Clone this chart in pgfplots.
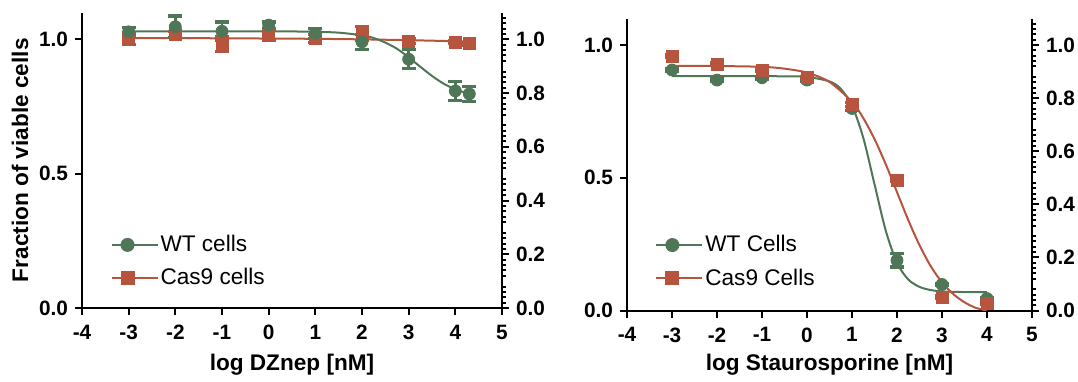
\documentclass[border=0pt]{standalone}
\usepackage{fontspec}
\setmainfont{Liberation Sans}
\usepackage{pgfplots}
\pgfplotsset{compat=1.18}
\definecolor{wtgreen}{RGB}{80,118,88}
\definecolor{casred}{RGB}{182,84,62}

\pgfplotstableread{
x y e
-3 1.028 0.015
-2 1.047 0.040
-1 1.030 0.035
0 1.053 0.012
1 1.022 0.018
2 0.991 0.028
3 0.926 0.035
4 0.808 0.035
4.3 0.797 0.028
}\dzwt
\pgfplotstableread{
x y e
-3 1.002 0.022
-2 1.018 0.010
-1 0.982 0.028
0 1.015 0.020
1 1.002 0.015
2 1.022 0.025
3 0.993 0.008
4 0.990 0.005
4.3 0.984 0.005
}\dzcas
\pgfplotstableread{
x y
-3 1.030
-2 1.030
-1 1.030
0 1.0295
0.5 1.0295
1 1.028
1.5 1.025
2 1.015
2.25 1.005
2.5 0.988
2.75 0.965
3 0.933
3.25 0.898
3.5 0.864
3.75 0.835
4 0.814
4.15 0.805
4.3 0.798
}\dzwtfit
\pgfplotstableread{
x y
-3 1.005
-1 1.004
0 1.003
1 1.002
2 1.000
3 0.997
4 0.993
4.3 0.991
}\dzcasfit
\pgfplotstableread{
x y e
-3 0.906 0.005
-2 0.868 0.005
-1 0.877 0.005
0 0.868 0.005
1 0.761 0.008
2 0.189 0.025
3 0.098 0.005
4 0.045 0.005
}\stwt
\pgfplotstableread{
x y e
-3 0.958 0.005
-2 0.927 0.005
-1 0.906 0.005
0 0.878 0.005
1 0.776 0.008
2 0.490 0.005
3 0.050 0.005
4 0.028 0.005
}\stcas
\pgfplotstableread{
x y
-3 0.883
-2 0.883
-1 0.883
-0.5 0.882
0 0.880
0.5 0.863
0.75 0.835
1 0.772
1.25 0.651
1.5 0.476
1.75 0.301
2 0.180
2.25 0.117
2.5 0.089
2.75 0.077
3 0.072
3.5 0.0695
4 0.069
}\stwtfit
\pgfplotstableread{
x y
-3 0.922
-2 0.921
-1 0.918
-0.5 0.911
0 0.896
0.5 0.861
1 0.786
1.25 0.725
1.5 0.646
1.75 0.551
2 0.446
2.25 0.341
2.5 0.246
2.75 0.167
3 0.106
3.25 0.062
3.5 0.031
3.75 0.010
4 0.000
}\stcasfit

\pgfplotsset{
  panel/.style={
    scale only axis, xmin=-4, xmax=5, ymin=0, ymax=1.1,
    axis line style={line width=1pt, black},
    every tick/.style={line width=1pt, black},
    tick align=outside,
    major tick length=3.5pt, minor tick length=2.2pt,
    ticklabel style={font=\fontsize{10.4}{12}\selectfont\bfseries, black},
  },
  mainax/.style={
    panel,
    axis x line*=bottom, axis y line*=left,
    xtick={-4,-3,-2,-1,0,1,2,3,4,5},
    xticklabels={-4,-3,-2,-1,0,1,2,3,4,5},
    xticklabel style={yshift=-1.5pt},
    ytick={0,0.5,1}, yticklabels={0.0,0.5,1.0},
    label style={font=\fontsize{11.3}{13}\selectfont\bfseries},
    legend style={draw=none, fill=none, inner sep=0pt,
      font=\fontsize{11.3}{13}\selectfont, row sep=5pt, column sep=0pt,
      nodes={inner sep=1pt}},
    legend cell align=left,
    legend image code/.code={
      \draw[mark repeat=2, mark phase=2, #1] plot coordinates {(0pt,0pt) (8pt,0pt) (16pt,0pt)};
      \path (16pt,0pt) -- (23pt,0pt);
    },
  },
  secax/.style={
    panel,
    axis x line=none, axis y line*=right,
    ytick={0,0.2,0.4,0.6,0.8,1.0},
    yticklabels={0.0,0.2,0.4,0.6,0.8,1.0},
    minor ytick={0.02,0.04,0.06,0.08,0.12,0.14,0.16,0.18,0.22,0.24,0.26,0.28,0.32,0.34,0.36,0.38,0.42,0.44,0.46,0.48,0.52,0.54,0.56,0.58,0.62,0.64,0.66,0.68,0.72,0.74,0.76,0.78,0.82,0.84,0.86,0.88,0.92,0.94,0.96,0.98,1.02,1.04,1.06,1.08},
  },
  ptsgreen/.style={only marks, color=wtgreen, mark=*, mark size=3pt,
    error bars/.cd, y dir=both, y explicit,
    error bar style={line width=1.3pt, wtgreen},
    error mark options={rotate=90, line width=1.6pt, mark size=3.5pt, wtgreen}},
  ptsred/.style={only marks, color=casred, mark=square*, mark size=3pt,
    error bars/.cd, y dir=both, y explicit,
    error bar style={line width=1.3pt, casred},
    error mark options={rotate=90, line width=1.6pt, mark size=3.5pt, casred}},
}

\begin{document}
\begin{tikzpicture}
\path[use as bounding box] (0pt,0pt) rectangle (539pt,190.5pt);

% ---------- left panel ----------
\begin{axis}[mainax, at={(41pt,36.5pt)}, anchor=south west,
  width=210pt, height=147.75pt,
  xlabel={log DZnep [nM]}, ylabel={Fraction of viable cells},
  xlabel style={at={(axis description cs:0.5,-0.193)}, anchor=center},
  ylabel style={at={(axis description cs:-0.1476,0.5)}, anchor=center},
  legend style={at={(axis description cs:0.067,0.157)}, anchor=west},
]
\addlegendimage{wtgreen, line width=1pt, mark=*, mark size=3pt}
\addlegendentry{WT cells}
\addlegendimage{casred, line width=1pt, mark=square*, mark size=3pt}
\addlegendentry{Cas9 cells}
\addplot[forget plot, casred, line width=1pt, smooth] table[x=x,y=y] {\dzcasfit};
\addplot[forget plot, wtgreen, line width=1pt, smooth] table[x=x,y=y] {\dzwtfit};
\addplot[forget plot, ptsred] table[x=x,y=y,y error=e] {\dzcas};
\addplot[forget plot, ptsgreen] table[x=x,y=y,y error=e] {\dzwt};
\end{axis}
\begin{axis}[secax, at={(41pt,36.5pt)}, anchor=south west,
  width=210pt, height=147.75pt]
\addplot[draw=none] coordinates {(0,0)};
\end{axis}

% ---------- right panel ----------
\begin{axis}[mainax, at={(313.5pt,35.25pt)}, anchor=south west,
  width=202.5pt, height=146pt,
  xlabel={log Staurosporine [nM]},
  xlabel style={at={(axis description cs:0.5,-0.187)}, anchor=center},
  legend style={at={(axis description cs:0.069,0.167)}, anchor=west},
]
\addlegendimage{wtgreen, line width=1pt, mark=*, mark size=3pt}
\addlegendentry{WT Cells}
\addlegendimage{casred, line width=1pt, mark=square*, mark size=3pt}
\addlegendentry{Cas9 Cells}
\addplot[forget plot, wtgreen, line width=1pt, smooth] table[x=x,y=y] {\stwtfit};
\addplot[forget plot, casred, line width=1pt, smooth] table[x=x,y=y] {\stcasfit};
\addplot[forget plot, ptsgreen] table[x=x,y=y,y error=e] {\stwt};
\addplot[forget plot, ptsred] table[x=x,y=y,y error=e] {\stcas};
\end{axis}
\begin{axis}[secax, at={(313.5pt,35.25pt)}, anchor=south west,
  width=202.5pt, height=146pt]
\addplot[draw=none] coordinates {(0,0)};
\end{axis}
\end{tikzpicture}
\end{document}
